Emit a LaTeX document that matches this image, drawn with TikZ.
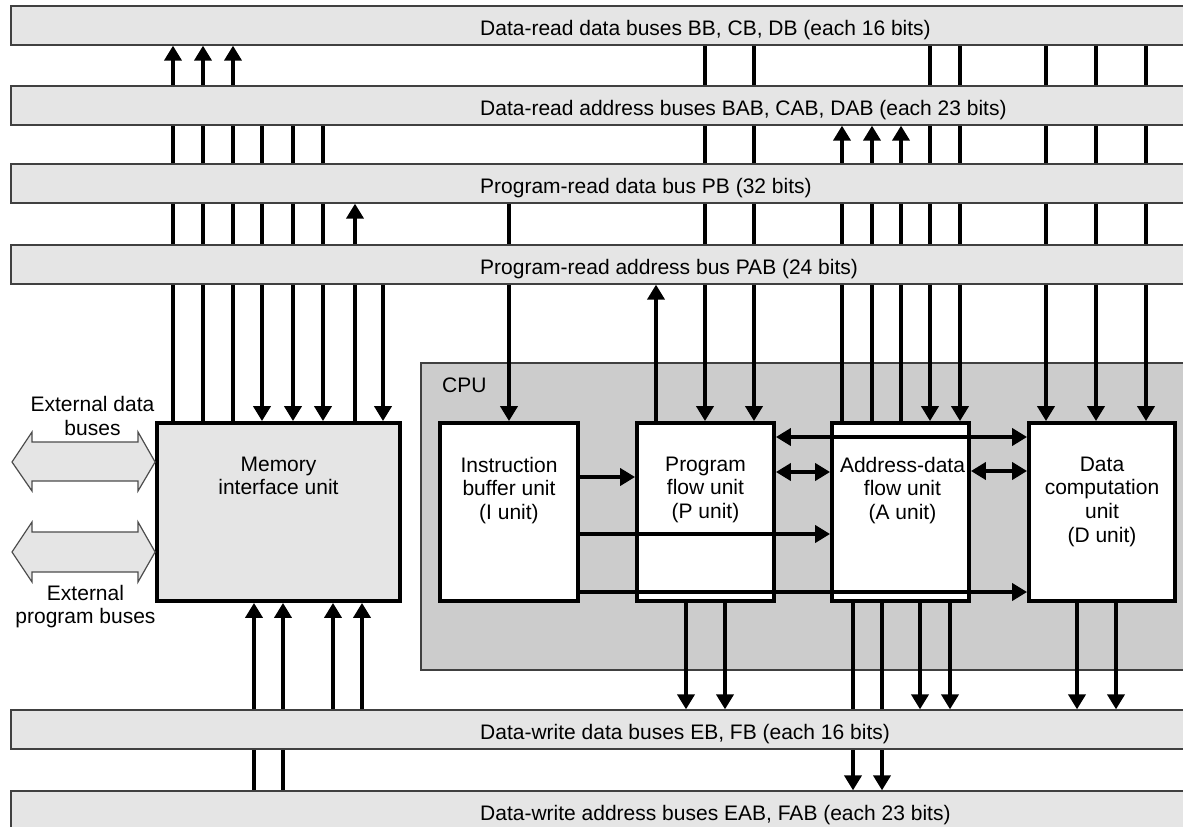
\documentclass[tikz,border=0pt]{standalone}
\usepackage{fontspec}
\setmainfont{Liberation Sans}
\usetikzlibrary{arrows.meta}
\pgfdeclarelayer{bg}
\pgfdeclarelayer{fg}
\pgfsetlayers{bg,main,fg}
\begin{document}
\begin{tikzpicture}[x=1pt,y=-1pt,
  every node/.style={font=\fontsize{21}{23.7}\selectfont, inner sep=0pt},
  bus/.style={draw=black!75, line width=1.3pt, fill=black!10, minimum width=1184, minimum height=39},
  buslabel/.style={anchor=base west},
  cpubox/.style={draw=black!75, line width=1.3pt, fill=black!20},
  unit/.style={draw=black, line width=3.8pt, fill=white, minimum height=178},
  utext/.style={align=center, anchor=north},
  wire/.style={line width=4pt},
  arr/.style={wire, -{Triangle[length=15pt,width=17pt]}},
  darr/.style={wire, {Triangle[length=15pt,width=17pt]}-{Triangle[length=15pt,width=17pt]}},
  extbus/.style={draw=black!70, line width=1.2pt, fill=black!10, line join=miter}
]
\useasboundingbox (0,0) rectangle (1183,827);

% ---------- buses (foreground) ----------
\begin{pgfonlayer}{fg}
\node[bus] (b1) at (603,25.5) {};
\node[buslabel] (t1) at (480,35) {Data-read data buses BB, CB, DB (each 16 bits)};
\node[bus] (b2) at (603,105.5) {};
\node[buslabel] (t2) at (480,115) {Data-read address buses BAB, CAB, DAB (each 23 bits)};
\node[bus] (b3) at (603,183.5) {};
\node[buslabel] (t3) at (480,193) {Program-read data bus PB (32 bits)};
\node[bus] (b4) at (603,264.5) {};
\node[buslabel] (t4) at (480,274) {Program-read address bus PAB (24 bits)};
\node[bus] (b5) at (603,729.5) {};
\node[buslabel] (t5) at (480,739) {Data-write data buses EB, FB (each 16 bits)};
\node[bus] (b6) at (603,810.5) {};
\node[buslabel] (t6) at (480,820) {Data-write address buses EAB, FAB (each 23 bits)};
\end{pgfonlayer}

% ---------- CPU background ----------
\begin{pgfonlayer}{bg}
\node[cpubox, minimum width=774, minimum height=307] (cpu) at (808,516.5) {};
\end{pgfonlayer}
\node[anchor=base west] (cputext) at (442,392) {CPU};

% ---------- units ----------
\node[unit, fill=black!10, minimum width=243] (mem) at (278.5,512) {};
\node[unit, minimum width=138] (I) at (509,512) {};
\node[unit, minimum width=137] (P) at (705.5,512) {};
\node[unit, minimum width=137] (A) at (900.5,512) {};
\node[unit, minimum width=146] (D) at (1102,512) {};

\node[utext] (memT) at ([yshift=-35.5pt]mem.north) {Memory\\interface unit};
\node[utext] (IT) at ([yshift=-35.5pt]I.north) {Instruction\\buffer unit\\(I unit)};
\node[utext] (PT) at ([yshift=-35.5pt]P.north) {Program\\flow unit\\(P unit)};
\node[utext] (AT) at ([yshift=-35.5pt,xshift=2pt]A.north) {Address-data\\flow unit\\(A unit)};
\node[utext] (DT) at ([yshift=-35.5pt]D.north) {Data\\computation\\unit\\(D unit)};

% ---------- external buses ----------
\coordinate (extD) at (12,462);
\coordinate (extP) at (12,552);
\draw[extbus] (extD) -- (32,432) -- (32,442) -- (138,442) -- (138,432) -- (mem.west |- extD)
  -- (138,491) -- (138,481) -- (32,481) -- (32,491) -- cycle;
\draw[extbus] (extP) -- (32,522) -- (32,532) -- (138,532) -- (138,522) -- (mem.west |- extP)
  -- (138,582) -- (138,572) -- (32,572) -- (32,582) -- cycle;
\node[align=center] (extDT) at (92.5,416) {External data\\buses};
\node[align=center] (extPT) at (85.5,606.5) {External\\program buses};

% ---------- memory interface connectors ----------
\foreach \x in {173,203,233} \draw[arr] (\x,0 |- mem.north) -- (\x,0 |- b1.south);
\foreach \x in {262,293,323} \draw[arr] (\x,0 |- b2.south) -- (\x,0 |- mem.north);
\draw[arr] (355,0 |- mem.north) -- (355,0 |- b3.south);
\draw[arr] (383,0 |- b4.south) -- (383,0 |- mem.north);
\foreach \x in {254,283} \draw[arr] (\x,0 |- b6.north) -- (\x,0 |- mem.south);
\foreach \x in {333,362} \draw[arr] (\x,0 |- b5.north) -- (\x,0 |- mem.south);

% ---------- CPU unit connectors ----------
\draw[arr] (509,0 |- b3.south) -- (509,0 |- I.north);
\draw[arr] (656,0 |- P.north) -- (656,0 |- b4.south);
\foreach \x in {705,754} \draw[arr] (\x,0 |- b1.south) -- (\x,0 |- P.north);
\foreach \x in {686,725} \draw[arr] (\x,0 |- P.south) -- (\x,0 |- b5.north);
\foreach \x in {842,872,901} \draw[arr] (\x,0 |- A.north) -- (\x,0 |- b2.south);
\foreach \x in {930,960} \draw[arr] (\x,0 |- b1.south) -- (\x,0 |- A.north);
\foreach \x in {853,882} \draw[arr] (\x,0 |- A.south) -- (\x,0 |- b6.north);
\foreach \x in {920,950} \draw[arr] (\x,0 |- A.south) -- (\x,0 |- b5.north);
\foreach \x in {1046,1096,1146} \draw[arr] (\x,0 |- b1.south) -- (\x,0 |- D.north);
\foreach \x in {1077,1116} \draw[arr] (\x,0 |- D.south) -- (\x,0 |- b5.north);

% ---------- horizontal connectors ----------
\draw[arr] (I.east |- 0,477) -- (P.west |- 0,477);
\draw[arr] (I.east |- 0,534) -- (A.west |- 0,534);
\draw[arr] (I.east |- 0,592) -- (D.west |- 0,592);
\draw[darr] (P.east |- 0,437) -- (D.west |- 0,437);
\draw[darr] (P.east |- 0,472) -- (A.west |- 0,472);
\draw[darr] (A.east |- 0,471) -- (D.west |- 0,471);
\end{tikzpicture}
\end{document}
